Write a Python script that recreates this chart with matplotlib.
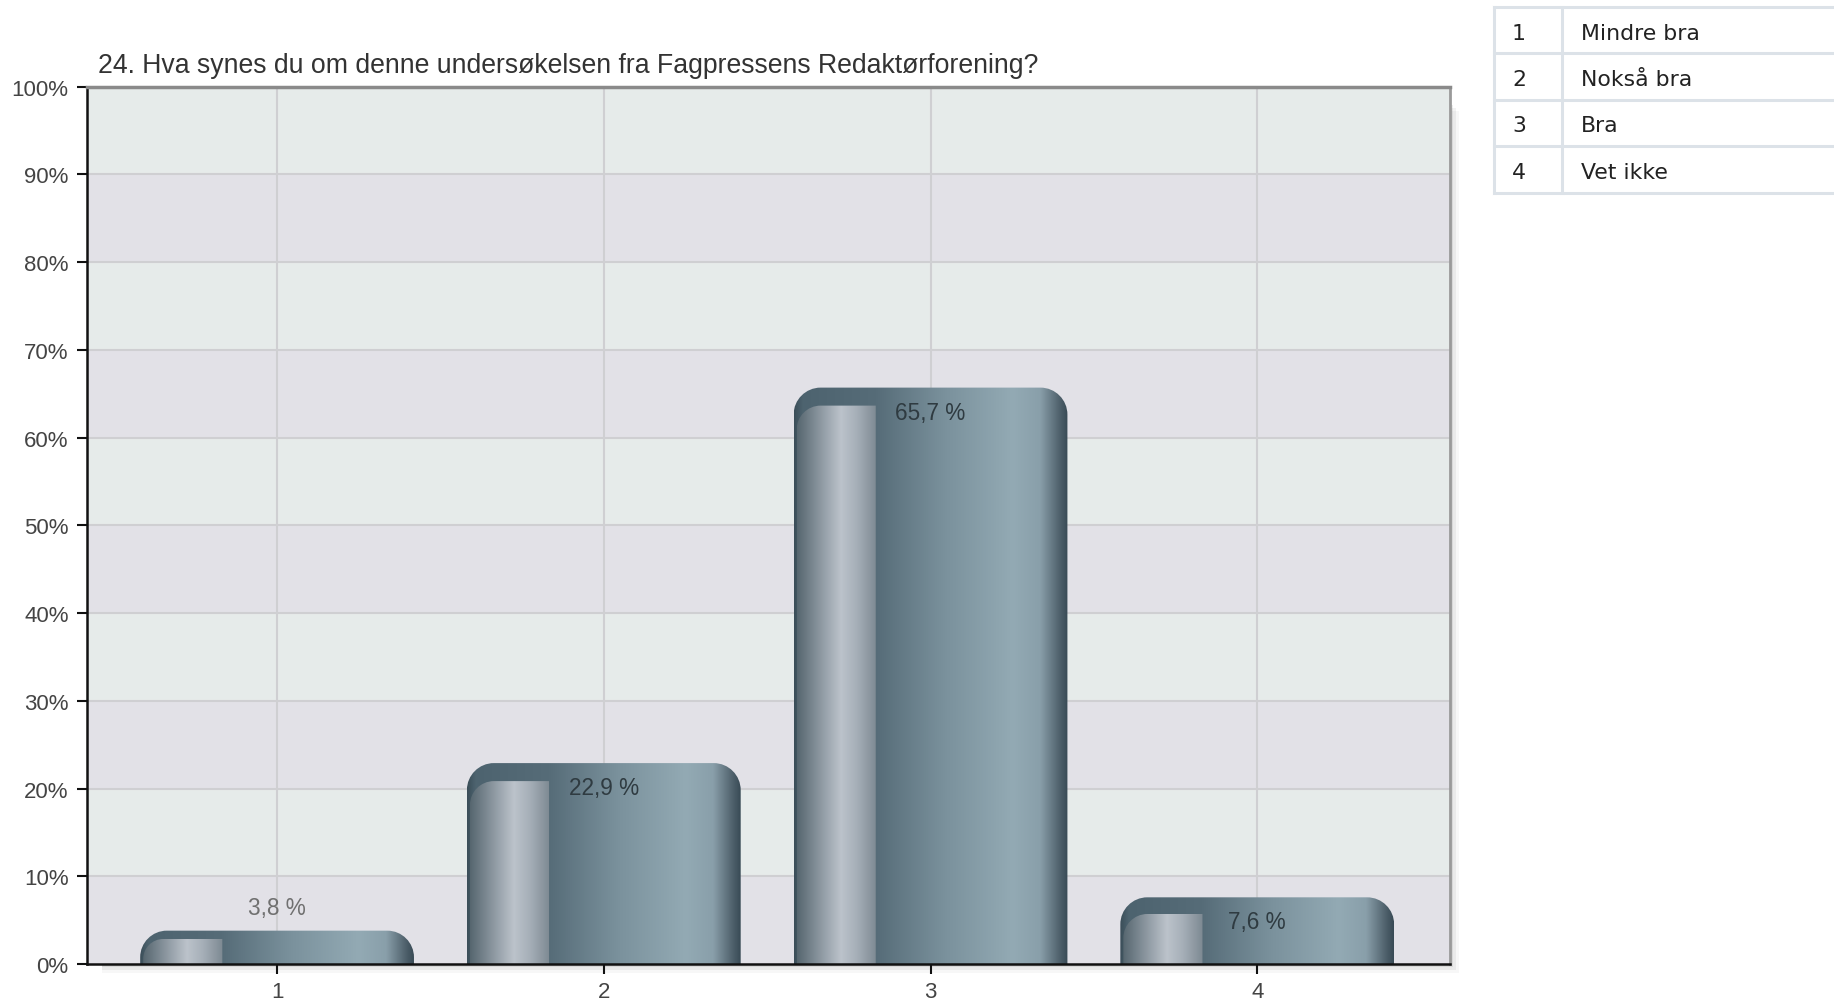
import numpy as np
import matplotlib
matplotlib.use('Agg')
import matplotlib.pyplot as plt
from matplotlib.path import Path
from matplotlib.patches import PathPatch, Rectangle
from matplotlib.colors import LinearSegmentedColormap
from matplotlib.lines import Line2D

title = "24. Hva synes du om denne undersøkelsen fra Fagpressens Redaktørforening?"
categories = ["1", "2", "3", "4"]
values = [3.8, 22.9, 65.7, 7.6]
value_labels = ["3,8 %", "22,9 %", "65,7 %", "7,6 %"]
legend_keys = ["1", "2", "3", "4"]
legend_names = ["Mindre bra", "Nokså bra", "Bra", "Vet ikke"]

W, H = 1834, 1004
fig = plt.figure(figsize=(W / 100, H / 100), dpi=100)
fig.patch.set_facecolor('white')

ax_l, ax_r, ax_t, ax_b = 86.6, 1450, 87.7, 965
ax = fig.add_axes([ax_l / W, 1 - ax_b / H, (ax_r - ax_l) / W, (ax_b - ax_t) / H])
xlim = (0.417, 4.59)
ax.set_xlim(*xlim)
ax.set_ylim(0, 100)

# soft shadow under / right of the plot area
for i, a in enumerate([0.07, 0.05, 0.03]):
    d = 3 + 3 * i
    fig.patches.append(Rectangle(((ax_l + 15) / W, 1 - (ax_b + d) / H), (ax_r - ax_l - 15 + d) / W,
                                 (ax_b - ax_t - 15) / H, transform=fig.transFigure,
                                 facecolor='#000000', alpha=a, edgecolor='none', zorder=-1))

# alternating bands
for k in range(10):
    c = '#e2e1e7' if k % 2 == 0 else '#e6ebea'
    ax.axhspan(k * 10, k * 10 + 10, color=c, zorder=0, lw=0)
for k in range(1, 10):
    ax.axhline(k * 10, color='#cfcfd2', lw=1.5, zorder=1)
for x in range(1, 5):
    ax.axvline(x, color='#cfcfd2', lw=1.5, zorder=1)

px_x = (ax_r - ax_l) / (xlim[1] - xlim[0])
px_y = (ax_b - ax_t) / 100.0

main_cmap = LinearSegmentedColormap.from_list('main', [
    (0.0, '#3b4e59'), (0.03, '#4d636f'), (0.3, '#566c78'), (0.55, '#7a919c'),
    (0.8, '#93aab4'), (0.9, '#899faa'), (0.97, '#50626d'), (1.0, '#394b56')])
panel_cmap = LinearSegmentedColormap.from_list('panel', [
    (0.0, '#56666f'), (0.3, '#8e99a2'), (0.55, '#bcc3cb'), (0.75, '#a6afb8'), (1.0, '#7d8992')])


def top_round(x0, x1, y0, y1, rx, ry, right=True):
    k = 0.5523
    verts = [(x0, y0), (x0, y1 - ry),
             (x0, y1 - ry + k * ry), (x0 + rx - k * rx, y1), (x0 + rx, y1)]
    codes = [Path.MOVETO, Path.LINETO, Path.CURVE4, Path.CURVE4, Path.CURVE4]
    if right:
        verts += [(x1 - rx, y1), (x1 - rx + k * rx, y1), (x1, y1 - ry + k * ry), (x1, y1 - ry)]
        codes += [Path.LINETO, Path.CURVE4, Path.CURVE4, Path.CURVE4]
    else:
        verts += [(x1, y1)]
        codes += [Path.LINETO]
    verts += [(x1, y0), (x0, y0)]
    codes += [Path.LINETO, Path.CLOSEPOLY]
    return Path(verts, codes)


grad = np.linspace(0, 1, 256).reshape(1, -1)
bw = 0.838
for i, v in enumerate(values):
    xc = i + 1
    x0, x1 = xc - bw / 2, xc + bw / 2
    hpx = v * px_y
    r = min(27, hpx * 0.8)
    p = PathPatch(top_round(x0, x1, 0, v, r / px_x, r / px_y), facecolor='none', edgecolor='none')
    ax.add_patch(p)
    im = ax.imshow(grad, cmap=main_cmap, extent=(x0, x1, 0, v), aspect='auto', zorder=3, interpolation='bilinear')
    im.set_clip_path(p)
    # highlight panel on the left
    off = min(18, 0.25 * hpx)
    px0, px1 = x0 + 3 / px_x, x0 + 0.30 * (x1 - x0)
    pt = v - off / px_y
    r2 = min(24, (hpx - off) * 0.8)
    p2 = PathPatch(top_round(px0, px1, 0, pt, r2 / px_x, r2 / px_y, right=False),
                   facecolor='none', edgecolor='none')
    ax.add_patch(p2)
    im2 = ax.imshow(grad, cmap=panel_cmap, extent=(px0, px1, 0, pt), aspect='auto', zorder=4, interpolation='bilinear')
    im2.set_clip_path(p2)
    if v > 5:
        ax.text(xc, v - 24.5 / px_y, value_labels[i], ha='center', va='center', fontsize=16.3,
                color='#2f3b41', family='Liberation Sans', zorder=6)
    else:
        ax.text(xc, v + 23.4 / px_y, value_labels[i], ha='center', va='center', fontsize=16.3,
                color='#707070', family='Liberation Sans', zorder=6)

ax.set_xticks(range(1, 5))
ax.set_xticklabels(categories)
ax.set_yticks(range(0, 101, 10))
ax.set_yticklabels(['%d%%' % t for t in range(0, 101, 10)])
ax.tick_params(axis='both', direction='out', length=7, width=1.5, color='#111111',
               labelsize=16, labelcolor='#444444', pad=6)
for lab in ax.get_xticklabels() + ax.get_yticklabels():
    lab.set_family('Liberation Sans')
ax.tick_params(axis='x', pad=5)
ax.spines['left'].set_color('#111111')
ax.spines['left'].set_linewidth(1.8)
ax.spines['bottom'].set_color('#111111')
ax.spines['bottom'].set_linewidth(1.8)
ax.spines['top'].set_color('#8a8a8a')
ax.spines['top'].set_linewidth(2.5)
ax.spines['right'].set_color('#9a9a9a')
ax.spines['right'].set_linewidth(2)
for s in ax.spines.values():
    s.set_zorder(7)

fig.text(98 / W, 1 - 66 / H, title, ha='left', va='center', fontsize=19.2, color='#333333',
         family='Liberation Sans')

# legend table at the top right
rows_y = [8.2, 53.8, 100.6, 147.4, 194.2]
tx0, tx1, txd = 1494, W + 5, 1562
bc = '#dce2e8'
for y in rows_y:
    fig.add_artist(Line2D([tx0 / W, tx1 / W], [1 - y / H, 1 - y / H], color=bc, lw=2.2))
for x in (tx0, txd):
    fig.add_artist(Line2D([x / W, x / W], [1 - rows_y[0] / H, 1 - rows_y[-1] / H], color=bc, lw=2.2))
for i in range(4):
    yc = (rows_y[i] + rows_y[i + 1]) / 2 + 2.5
    fig.text(1519 / W, 1 - yc / H, legend_keys[i], ha='center', va='center', fontsize=15.8,
             color='#222222', family='DejaVu Sans')
    fig.text(1581 / W, 1 - yc / H, legend_names[i], ha='left', va='center', fontsize=15.8,
             color='#222222', family='DejaVu Sans')

fig.savefig('out.png', dpi=100)
